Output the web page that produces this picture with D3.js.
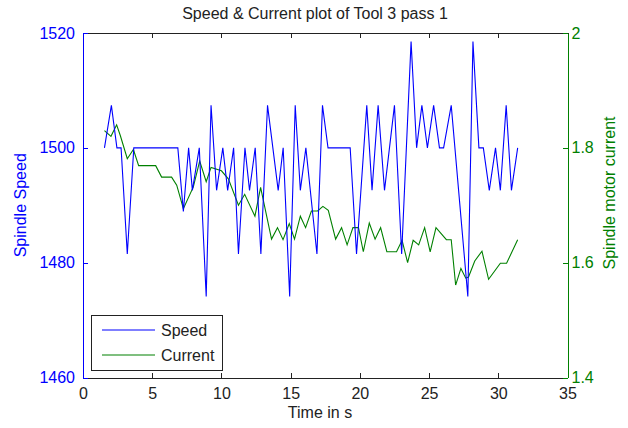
<!DOCTYPE html>
<html>
<head>
<meta charset="utf-8">
<script src="https://cdn.jsdelivr.net/npm/d3@7"></script>
<style>
  html, body { margin: 0; padding: 0; background: #fff; }
  svg { display: block; font-family: "Liberation Sans", Arial, sans-serif; }
</style>
</head>
<body>
<div id="chart-area"></div>
<script>
// values
const speedTime = [1.55, 2.05, 2.45, 2.75, 3.2, 3.67, 6.85, 7.25, 7.63, 7.9, 8.4, 8.9,
  9.25, 9.65, 10.1, 10.45, 10.88, 11.23, 11.7, 12.03, 12.44, 12.85, 13.33, 14.1, 14.46,
  14.93, 15.33, 15.7, 16.1, 16.9, 17.3, 17.7, 19.3, 19.76, 20.5, 20.88, 21.32, 21.78,
  22.5, 23.02, 23.7, 24.1, 24.48, 24.88, 25.33, 25.75, 26.05, 26.6, 27.8, 28.17, 28.6,
  28.92, 29.35, 29.8, 30.15, 30.57, 30.95, 31.4];
const speedValues = [1500, 1507.4, 1500, 1500, 1481.5, 1500, 1500, 1488.9, 1500, 1492.6, 1500, 1474.1,
  1507.4, 1492.6, 1500, 1492.6, 1500, 1481.5, 1500, 1492.6, 1500, 1481.5, 1507.4, 1492.6, 1500,
  1474.1, 1507.4, 1492.6, 1500, 1481.5, 1507.4, 1500, 1500, 1481.5, 1507.4, 1492.6, 1507.4, 1492.6,
  1507.4, 1481.5, 1518.5, 1500, 1507.4, 1500, 1507.4, 1500, 1500, 1507.4, 1474.1, 1518.5, 1500,
  1500, 1492.6, 1500, 1492.6, 1507.4, 1492.6, 1500];

const currentTime = [1.55, 2.02, 2.43, 2.7, 3.2, 3.64, 4.02, 5.25, 5.68, 6.4, 6.77, 7.25,
  7.97, 8.43, 8.9, 9.25, 10.0, 10.5, 11.23, 11.68, 12.42, 12.83, 13.62, 14.05, 14.45,
  14.9, 15.28, 15.7, 16.08, 16.5, 16.95, 17.33, 17.72, 18.25, 18.68, 19.08, 19.5, 19.9,
  20.25, 20.68, 21.1, 21.5, 21.95, 22.65, 23.05, 23.45, 23.85, 24.25, 24.68, 25.08,
  25.5, 26.25, 26.6, 26.92, 27.3, 27.65, 27.85, 28.3, 28.82, 29.3, 30.15, 30.6, 31.4];
const currentValues = [1.830, 1.820, 1.840, 1.821, 1.781, 1.797, 1.769, 1.769, 1.749, 1.749, 1.735, 1.694,
  1.732, 1.777, 1.741, 1.766, 1.760, 1.746, 1.700, 1.719, 1.681, 1.731, 1.641, 1.661, 1.640,
  1.668, 1.641, 1.681, 1.661, 1.690, 1.690, 1.698, 1.691, 1.641, 1.661, 1.631, 1.661, 1.661,
  1.619, 1.669, 1.641, 1.661, 1.619, 1.619, 1.639, 1.600, 1.639, 1.631, 1.661, 1.619,
  1.661, 1.640, 1.640, 1.561, 1.590, 1.573, 1.575, 1.603, 1.620, 1.571, 1.599, 1.599, 1.640];

const timeTicks = [0, 5, 10, 15, 20, 25, 30, 35];
const speedTicks = [1460, 1480, 1500, 1520];
const currentTicks = [1.4, 1.6, 1.8, 2];

const blue = "#0000ff";
const green = "#008000";

const W = 628, H = 428;
const pLeft = 83, pRight = 567.5, pTop = 33, pBottom = 377.5;

const svg = d3.select("#chart-area").append("svg")
  .attr("width", W).attr("height", H);

svg.append("rect").attr("width", W).attr("height", H).attr("fill", "#fff");

const x = d3.scaleLinear().domain([0, 35]).range([pLeft, pRight]);
const yS = d3.scaleLinear().domain([1460, 1520]).range([pBottom, pTop]);
const yC = d3.scaleLinear().domain([1.4, 2]).range([pBottom, pTop]);

svg.append("defs").append("clipPath").attr("id", "plot")
  .append("rect").attr("x", pLeft).attr("y", pTop)
  .attr("width", pRight - pLeft).attr("height", pBottom - pTop);

const plot = svg.append("g").attr("clip-path", "url(#plot)");

const speedLine = d3.line().x((d, i) => x(speedTime[i])).y(d => yS(d));
const currentLine = d3.line().x((d, i) => x(currentTime[i])).y(d => yC(d));

plot.append("path").datum(currentValues)
  .attr("d", currentLine).attr("fill", "none")
  .attr("stroke", green).attr("stroke-width", 1.1);

plot.append("path").datum(speedValues)
  .attr("d", speedLine).attr("fill", "none")
  .attr("stroke", blue).attr("stroke-width", 1.1);

// axes, MATLAB style: ticks pointing inside
const tk = 5;
const bottomAxis = d3.axisBottom(x).tickValues(timeTicks).tickSizeInner(-tk).tickSizeOuter(0).tickPadding(tk + 5);
const topAxis = d3.axisTop(x).tickValues(timeTicks).tickSizeInner(-tk).tickSizeOuter(0).tickFormat("");
const leftAxis = d3.axisLeft(yS).tickValues(speedTicks).tickFormat(d3.format("d"))
  .tickSizeInner(-tk).tickSizeOuter(0).tickPadding(tk + 3);
const rightAxis = d3.axisRight(yC).tickValues(currentTicks).tickFormat(d3.format("~g"))
  .tickSizeInner(-tk).tickSizeOuter(0).tickPadding(tk + 0);

function styleAxis(g, color) {
  g.select(".domain").attr("stroke", color).attr("shape-rendering", "crispEdges");
  g.selectAll(".tick line").attr("stroke", color).attr("shape-rendering", "crispEdges");
  g.selectAll(".tick text").attr("fill", color)
    .style("font-family", "'Liberation Sans', Arial, sans-serif").style("font-size", "16px");
}

const gB = svg.append("g").attr("transform", `translate(0,${pBottom})`).call(bottomAxis);
styleAxis(gB, "#222");
const gT = svg.append("g").attr("transform", `translate(0,${pTop})`).call(topAxis);
styleAxis(gT, "#222");
const gL = svg.append("g").attr("transform", `translate(${pLeft},0)`).call(leftAxis);
styleAxis(gL, blue);
const gR = svg.append("g").attr("transform", `translate(${pRight},0)`).call(rightAxis);
styleAxis(gR, green);
gR.selectAll(".tick text").attr("x", 4);

// titles
svg.append("text").attr("x", 315).attr("y", 19).attr("text-anchor", "middle")
  .attr("font-size", 16).attr("fill", "#222").text("Speed & Current plot of Tool 3 pass 1");

svg.append("text").attr("x", 320).attr("y", 418).attr("text-anchor", "middle")
  .attr("font-size", 16).attr("fill", "#222").text("Time in s");

svg.append("text").attr("transform", `translate(26,${(pTop + pBottom) / 2}) rotate(-90)`)
  .attr("text-anchor", "middle").attr("font-size", 16).attr("fill", blue).text("Spindle Speed");

svg.append("text").attr("transform", `translate(615,193) rotate(-90)`)
  .attr("text-anchor", "middle").attr("font-size", 16).attr("fill", green).text("Spindle motor current");

// legend
const legend = svg.append("g");
legend.append("rect").attr("x", 91.5).attr("y", 315.5).attr("width", 131).attr("height", 55)
  .attr("fill", "#fff").attr("stroke", "#222").attr("shape-rendering", "crispEdges");

const legendItems = [
  { name: "Speed", color: blue, y: 330 },
  { name: "Current", color: green, y: 355 }
];
legendItems.forEach(d => {
  legend.append("line").attr("x1", 102).attr("x2", 155).attr("y1", d.y).attr("y2", d.y)
    .attr("stroke", d.color).attr("stroke-width", 1.1);
  legend.append("text").attr("x", 161).attr("y", d.y + 6).attr("font-size", 16)
    .attr("fill", "#222").text(d.name);
});
</script>
</body>
</html>
